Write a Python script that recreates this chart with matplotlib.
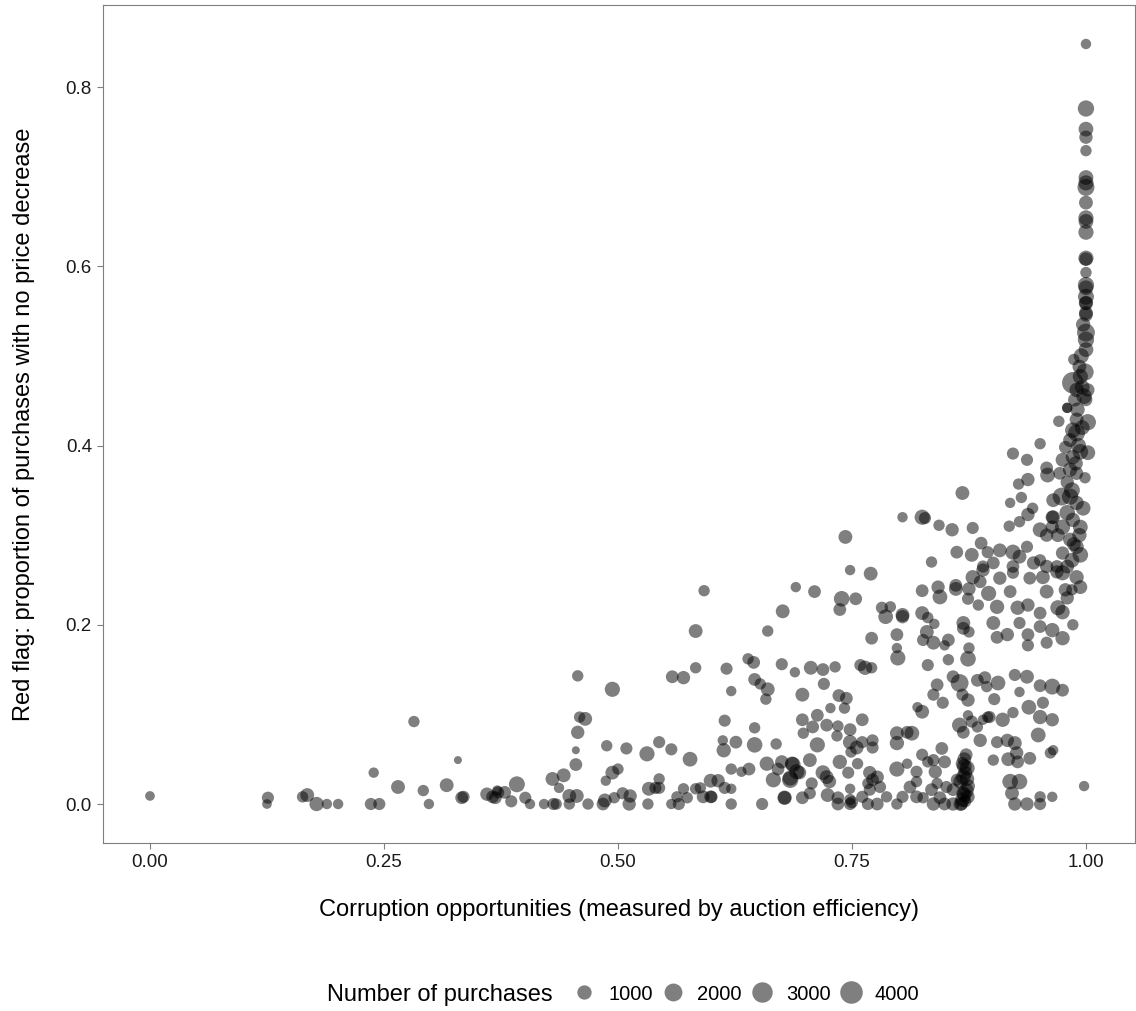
import numpy as np
import matplotlib
matplotlib.use('Agg')
import matplotlib.pyplot as plt
from matplotlib.lines import Line2D

plt.rcParams['font.family'] = ['Liberation Sans', 'DejaVu Sans']

# auction efficiency (x), share of purchases with no price decrease (y), number of purchases (size)
# low efficiency tail
x_low = [0.0, 0.125, 0.126, 0.163, 0.168, 0.178, 0.189, 0.201, 0.236, 0.245, 0.239, 0.265, 0.282,
         0.292, 0.298, 0.317, 0.329, 0.333, 0.335, 0.36, 0.366, 0.372]
y_low = [0.009, 0.0, 0.007, 0.008, 0.01, 0.0, 0.0, 0.0, 0.0, 0.0, 0.035, 0.019, 0.092,
         0.015, 0.0, 0.021, 0.049, 0.007, 0.008, 0.011, 0.008, 0.013]
n_low = [350, 350, 600, 500, 900, 1000, 400, 400, 600, 600, 400, 900, 500,
         500, 400, 900, 300, 700, 600, 800, 700, 600]

# middle band 0.37 - 0.70
x_mid = [0.369, 0.371, 0.379, 0.392, 0.386, 0.401, 0.406, 0.421, 0.431, 0.434, 0.437, 0.430, 0.442,
         0.448, 0.456, 0.448, 0.455, 0.455, 0.457, 0.459, 0.465, 0.457, 0.468, 0.484, 0.486, 0.488,
         0.494, 0.487, 0.494, 0.500, 0.496, 0.505, 0.513, 0.512, 0.509, 0.531, 0.532, 0.533, 0.540,
         0.544, 0.544, 0.544, 0.557, 0.558, 0.570, 0.557, 0.565, 0.563, 0.574, 0.570, 0.577, 0.583,
         0.583, 0.592, 0.583, 0.588, 0.591, 0.599, 0.607, 0.599, 0.600, 0.614, 0.621, 0.621, 0.621,
         0.632, 0.640, 0.612, 0.613, 0.626, 0.614, 0.646, 0.646, 0.616, 0.621, 0.639, 0.645, 0.646,
         0.652, 0.660, 0.658, 0.675, 0.689, 0.676, 0.660, 0.690, 0.669, 0.654, 0.659, 0.666, 0.675,
         0.671, 0.686, 0.684, 0.691, 0.678]
y_mid = [0.007, 0.015, 0.013, 0.022, 0.003, 0.007, 0.0, 0.0, 0.0, 0.0, 0.018, 0.028, 0.032,
         0.009, 0.009, 0.0, 0.044, 0.060, 0.080, 0.097, 0.095, 0.143, 0.0, 0.0, 0.004, 0.065,
         0.128, 0.026, 0.035, 0.039, 0.007, 0.012, 0.009, 0.0, 0.062, 0.056, 0.0, 0.017, 0.018,
         0.018, 0.028, 0.069, 0.061, 0.142, 0.141, 0.0, 0.0, 0.008, 0.007, 0.017, 0.050, 0.193,
         0.152, 0.238, 0.017, 0.018, 0.008, 0.026, 0.026, 0.008, 0.008, 0.018, 0.017, 0.0, 0.039,
         0.036, 0.039, 0.071, 0.060, 0.069, 0.093, 0.066, 0.085, 0.151, 0.126, 0.162, 0.158, 0.139,
         0.134, 0.128, 0.117, 0.156, 0.147, 0.215, 0.193, 0.242, 0.067, 0.0, 0.045, 0.027, 0.047,
         0.039, 0.045, 0.027, 0.036, 0.007]
n_mid = [700, 400, 700, 1400, 600, 600, 400, 400, 600, 500, 400, 900, 900,
         900, 900, 500, 700, 300, 800, 500, 900, 500, 500, 700, 900, 500,
         1200, 400, 900, 500, 500, 600, 800, 800, 600, 1200, 500, 900, 600,
         600, 500, 600, 600, 700, 800, 400, 600, 500, 500, 500, 1100, 900,
         500, 500, 500, 500, 700, 900, 800, 700, 600, 600, 400, 500, 500,
         400, 700, 400, 1000, 700, 600, 1300, 500, 600, 400, 500, 700, 700,
         500, 900, 500, 600, 400, 900, 500, 400, 500, 600, 1000, 1200, 800,
         700, 1000, 1500, 1200, 800]

# upper middle 0.70 - 0.90
x_up = [0.743, 0.748, 0.770, 0.710, 0.739, 0.754, 0.737, 0.771, 0.782, 0.835, 0.786, 0.791, 0.804,
        0.804, 0.825, 0.831, 0.838, 0.825, 0.842, 0.844, 0.861, 0.861, 0.875, 0.874, 0.885, 0.896,
        0.879, 0.890, 0.869, 0.869, 0.875, 0.830, 0.837, 0.826, 0.853, 0.849, 0.798, 0.798, 0.799,
        0.759, 0.764, 0.771, 0.732, 0.719, 0.706, 0.720, 0.697, 0.736, 0.744, 0.742, 0.727, 0.761,
        0.748, 0.735, 0.723, 0.708, 0.713, 0.697, 0.698, 0.713, 0.734, 0.748, 0.755, 0.761, 0.772,
        0.772, 0.749, 0.798, 0.798, 0.814, 0.809, 0.737, 0.756, 0.746, 0.769, 0.777, 0.772, 0.767,
        0.687, 0.705, 0.719, 0.726, 0.723, 0.684, 0.694, 0.707]
y_up = [0.298, 0.261, 0.257, 0.237, 0.229, 0.229, 0.217, 0.185, 0.219, 0.270, 0.209, 0.220, 0.211,
        0.209, 0.213, 0.208, 0.201, 0.238, 0.242, 0.231, 0.244, 0.240, 0.240, 0.229, 0.222, 0.235,
        0.253, 0.261, 0.202, 0.196, 0.192, 0.192, 0.180, 0.183, 0.183, 0.177, 0.189, 0.174, 0.163,
        0.155, 0.152, 0.152, 0.153, 0.150, 0.152, 0.134, 0.122, 0.121, 0.118, 0.107, 0.107, 0.094,
        0.083, 0.087, 0.088, 0.086, 0.099, 0.094, 0.079, 0.066, 0.076, 0.069, 0.063, 0.069, 0.071,
        0.063, 0.058, 0.079, 0.068, 0.079, 0.080, 0.047, 0.045, 0.035, 0.035, 0.030, 0.027, 0.023,
        0.044, 0.049, 0.035, 0.025, 0.030, 0.029, 0.035, 0.023]
n_up = [900, 400, 900, 700, 1300, 700, 700, 700, 600, 500, 1100, 500, 900,
        800, 900, 500, 400, 700, 800, 1100, 700, 900, 800, 600, 500, 1200,
        1000, 800, 900, 700, 500, 900, 900, 600, 700, 400, 700, 400, 1200,
        600, 1000, 500, 500, 700, 900, 600, 900, 700, 700, 500, 400, 700,
        700, 500, 700, 700, 700, 700, 500, 1200, 500, 1000, 900, 600, 600,
        600, 500, 900, 1000, 1100, 700, 1000, 500, 600, 800, 800, 700, 500,
        1200, 900, 1100, 800, 900, 1200, 800, 600]

# bottom band 0.67 - 0.96
x_bot = [0.678, 0.697, 0.705, 0.724, 0.735, 0.748, 0.748, 0.735, 0.767, 0.777, 0.761, 0.769, 0.780,
         0.787, 0.798, 0.798, 0.809, 0.804, 0.812, 0.819, 0.819, 0.819, 0.825, 0.831, 0.837, 0.846,
         0.849, 0.839, 0.841, 0.835, 0.851, 0.844, 0.837, 0.826, 0.849, 0.858, 0.858, 0.862, 0.748,
         0.750, 0.919, 0.929, 0.921, 0.924, 0.937, 0.951, 0.964, 0.951, 0.998]
y_bot = [0.007, 0.007, 0.012, 0.010, 0.007, 0.017, 0.0, 0.0, 0.0, 0.0, 0.008, 0.016, 0.019,
         0.008, 0.039, 0.0, 0.045, 0.008, 0.019, 0.025, 0.008, 0.036, 0.055, 0.047, 0.049, 0.062,
         0.047, 0.036, 0.023, 0.016, 0.019, 0.007, 0.0, 0.007, 0.0, 0.0, 0.016, 0.027, 0.005,
         0.002, 0.025, 0.025, 0.012, 0.0, 0.0, 0.0, 0.008, 0.008, 0.020]
n_bot = [1000, 700, 600, 900, 700, 400, 600, 700, 600, 700, 600, 600, 600,
         500, 1200, 500, 400, 600, 700, 500, 700, 600, 600, 500, 600, 700,
         700, 800, 500, 700, 600, 700, 800, 500, 700, 800, 700, 600, 500,
         600, 1300, 1300, 900, 800, 800, 600, 400, 500, 400]

# dense column near 0.87
x_col = [0.866, 0.868, 0.870, 0.872, 0.874, 0.866, 0.869, 0.871, 0.873, 0.868, 0.870, 0.872, 0.867,
         0.871, 0.874, 0.869, 0.873, 0.870]
y_col = [0.0, 0.005, 0.010, 0.015, 0.020, 0.025, 0.030, 0.035, 0.040, 0.045, 0.050, 0.055, 0.0,
         0.003, 0.008, 0.012, 0.028, 0.042]
n_col = [900, 1100, 1000, 1200, 900, 1000, 1100, 900, 1200, 800, 900, 700, 700,
         600, 800, 900, 1000, 1100]

# 0.85 - 0.99, y 0.05 - 0.26
x_rt = [0.865, 0.869, 0.878, 0.884, 0.890, 0.887, 0.895, 0.874, 0.865, 0.874, 0.858, 0.868, 0.884,
        0.892, 0.906, 0.902, 0.894, 0.874, 0.875, 0.853, 0.831, 0.841, 0.837, 0.847, 0.820, 0.825,
        0.897, 0.911, 0.922, 0.916, 0.924, 0.926, 0.905, 0.901, 0.917, 0.927, 0.940, 0.962, 0.965,
        0.924, 0.937, 0.951, 0.964, 0.975, 0.954, 0.951, 0.964, 0.939, 0.949, 0.929,
        0.905, 0.901, 0.916, 0.929, 0.938, 0.951, 0.964, 0.975, 0.986, 0.938, 0.958,
        0.927, 0.938, 0.951, 0.958, 0.970, 0.975, 0.980, 0.985, 0.919, 0.905, 0.887, 0.908, 0.922,
        0.940, 0.954, 0.969, 0.975]
y_rt = [0.088, 0.080, 0.092, 0.086, 0.094, 0.071, 0.097, 0.099, 0.135, 0.116, 0.142, 0.122, 0.138,
        0.141, 0.135, 0.117, 0.131, 0.162, 0.174, 0.161, 0.155, 0.133, 0.122, 0.113, 0.108, 0.103,
        0.097, 0.094, 0.102, 0.071, 0.068, 0.057, 0.069, 0.049, 0.050, 0.047, 0.051, 0.057, 0.060,
        0.144, 0.142, 0.132, 0.131, 0.127, 0.113, 0.097, 0.094, 0.108, 0.077, 0.125,
        0.186, 0.202, 0.189, 0.202, 0.189, 0.198, 0.194, 0.185, 0.200, 0.177, 0.180,
        0.219, 0.222, 0.213, 0.237, 0.219, 0.214, 0.230, 0.239, 0.237, 0.220, 0.248, 0.252, 0.258,
        0.252, 0.253, 0.259, 0.258]
n_rt = [1200, 700, 600, 500, 400, 800, 500, 400, 2000, 800, 700, 600, 700,
        700, 1100, 600, 500, 1300, 500, 500, 600, 700, 600, 600, 400, 900,
        600, 1000, 500, 800, 900, 800, 600, 500, 900, 700, 700, 500, 400,
        600, 900, 700, 1400, 700, 600, 1000, 800, 1100, 1100, 400,
        700, 900, 800, 600, 700, 700, 1000, 1000, 500, 600, 600,
        1000, 800, 700, 900, 1200, 1000, 800, 500, 700, 1000, 700, 800, 600,
        700, 900, 800, 1200]

# 0.80 - 0.99, y 0.26 - 0.45
x_hi = [0.804, 0.825, 0.828, 0.843, 0.857, 0.868, 0.879,
        0.862, 0.878, 0.888, 0.895, 0.908, 0.901, 0.890, 0.922, 0.929, 0.922, 0.937, 0.944, 0.951,
        0.958, 0.918, 0.929, 0.938, 0.943, 0.951, 0.958, 0.965, 0.964,
        0.919, 0.931, 0.928, 0.938, 0.937, 0.951, 0.922, 0.958, 0.959, 0.971, 0.980]
y_hi = [0.320, 0.320, 0.319, 0.311, 0.306, 0.347, 0.308,
        0.281, 0.278, 0.291, 0.281, 0.283, 0.269, 0.265, 0.281, 0.276, 0.265, 0.287, 0.269, 0.272,
        0.265, 0.310, 0.315, 0.323, 0.330, 0.306, 0.300, 0.320, 0.309,
        0.336, 0.342, 0.357, 0.362, 0.384, 0.402, 0.391, 0.375, 0.367, 0.427, 0.442]
n_hi = [400, 1200, 600, 500, 800, 900, 600,
        700, 900, 700, 600, 900, 700, 600, 1200, 900, 700, 600, 800, 600,
        800, 500, 500, 800, 500, 1100, 800, 900, 800,
        400, 500, 500, 800, 600, 500, 600, 700, 1100, 500, 400]

# steep column at full efficiency
x_top = [1.0, 1.0, 1.0, 1.0, 1.0, 1.0, 1.0, 1.0, 1.0, 1.0, 1.0, 1.0, 1.0,
         1.0, 1.0, 1.0, 1.0, 1.0, 1.0, 1.0, 1.0, 1.0, 1.0, 1.0, 1.0,
         0.987, 0.986, 0.999, 0.994, 0.996, 0.990, 1.002, 0.988, 0.980, 1.0,
         1.002, 0.990, 0.986, 0.990, 0.983, 0.978, 0.994, 1.002, 0.986,
         0.975, 0.983, 0.990, 0.999, 0.972, 0.980, 0.974, 0.983, 0.990, 0.965,
         0.980, 0.986, 0.964, 0.975, 0.994, 0.970, 0.983, 0.990, 0.975, 0.985, 0.994, 0.980, 0.969,
         0.994, 0.990, 0.978,
         0.997, 0.995, 0.993, 0.998, 0.991, 0.996, 0.992, 0.989, 0.985, 0.997, 0.993, 0.987]
y_top = [0.848, 0.776, 0.753, 0.744, 0.729, 0.699, 0.693, 0.688, 0.671, 0.654, 0.650, 0.638, 0.609,
         0.608, 0.593, 0.579, 0.576, 0.566, 0.559, 0.548, 0.559, 0.546, 0.526, 0.518, 0.507,
         0.496, 0.470, 0.482, 0.477, 0.465, 0.462, 0.462, 0.451, 0.442, 0.451,
         0.426, 0.429, 0.417, 0.414, 0.406, 0.398, 0.393, 0.392, 0.387,
         0.384, 0.373, 0.369, 0.364, 0.369, 0.359, 0.343, 0.343, 0.336, 0.339,
         0.325, 0.317, 0.320, 0.309, 0.309, 0.300, 0.295, 0.287, 0.280, 0.272, 0.278, 0.265, 0.265,
         0.242, 0.253, 0.239,
         0.535, 0.500, 0.488, 0.455, 0.440, 0.420, 0.400, 0.380, 0.350, 0.330, 0.300, 0.290]
n_top = [400, 1500, 1100, 800, 500, 1100, 1200, 1700, 900, 1200, 1100, 1200, 1200,
         800, 500, 1500, 1100, 1400, 800, 900, 1000, 900, 2000, 1500, 1100,
         500, 3500, 1800, 1200, 1100, 1000, 800, 800, 400, 700,
         1500, 900, 1300, 1700, 900, 700, 1300, 1100, 1000,
         900, 1000, 800, 500, 700, 800, 2000, 1500, 1000, 900,
         1300, 1000, 800, 1200, 1100, 900, 900, 1000, 800, 1100, 1300, 900, 700,
         900, 1000, 800,
         1000, 1200, 900, 1300, 1000, 1100, 1200, 1000, 1400, 1100, 1000, 900]

legend_counts = [1000, 2000, 3000, 4000]

x_all = np.array(x_low + x_mid + x_up + x_bot + x_col + x_rt + x_hi + x_top)
y_all = np.array(y_low + y_mid + y_up + y_bot + y_col + y_rt + y_hi + y_top)
n_all = np.array(n_low + n_mid + n_up + n_bot + n_col + n_rt + n_hi + n_top)


def size_of(n):
    # diameter in px grows with sqrt of count, as ggplot's area scale
    d = 8 + 15.5 * np.sqrt(np.clip((np.asarray(n, dtype=float) - 300) / 4200, 0, None))
    return (d * 0.72) ** 2


fig = plt.figure(figsize=(11.36, 10.11), dpi=100)
ax = fig.add_axes([103 / 1136, 1 - 843 / 1011, 1032 / 1136, 838 / 1011])

ax.scatter(x_all, y_all, s=size_of(n_all), c='black', alpha=0.5, linewidths=0)

ax.set_xlim(-0.0502, 1.0524)
ax.set_ylim(-0.0435, 0.8915)
ax.set_xticks([0.0, 0.25, 0.5, 0.75, 1.0])
ax.set_xticklabels(['0.00', '0.25', '0.50', '0.75', '1.00'])
ax.set_yticks([0.0, 0.2, 0.4, 0.6, 0.8])
ax.set_yticklabels(['0.0', '0.2', '0.4', '0.6', '0.8'])
for sp in ax.spines.values():
    sp.set_color('#7f7f7f')
    sp.set_linewidth(0.8)
ax.tick_params(colors='#7f7f7f', labelcolor='#1a1a1a', labelsize=13.5, length=4, width=0.8, pad=4)

ax.set_xlabel('Corruption opportunities (measured by auction efficiency)', fontsize=17, labelpad=20)
ax.set_ylabel('Red flag: proportion of purchases with no price decrease', fontsize=17, labelpad=22)

# size legend along the bottom
fig.text(327 / 1136, 1 - 995 / 1011, 'Number of purchases', fontsize=17, va='center', ha='left')
handles = [Line2D([], [], linestyle='none', marker='o', color='black', alpha=0.5,
                  markeredgewidth=0, markersize=np.sqrt(size_of(c))) for c in legend_counts]
fig.legend(handles, [str(c) for c in legend_counts], ncol=4, frameon=False,
           loc='center left', bbox_to_anchor=(572 / 1136, 1 - 994 / 1011),
           fontsize=14.5, handlelength=1.2, handletextpad=0.6, columnspacing=0.4,
           borderpad=0, borderaxespad=0)

fig.savefig('out.png', dpi=100)
